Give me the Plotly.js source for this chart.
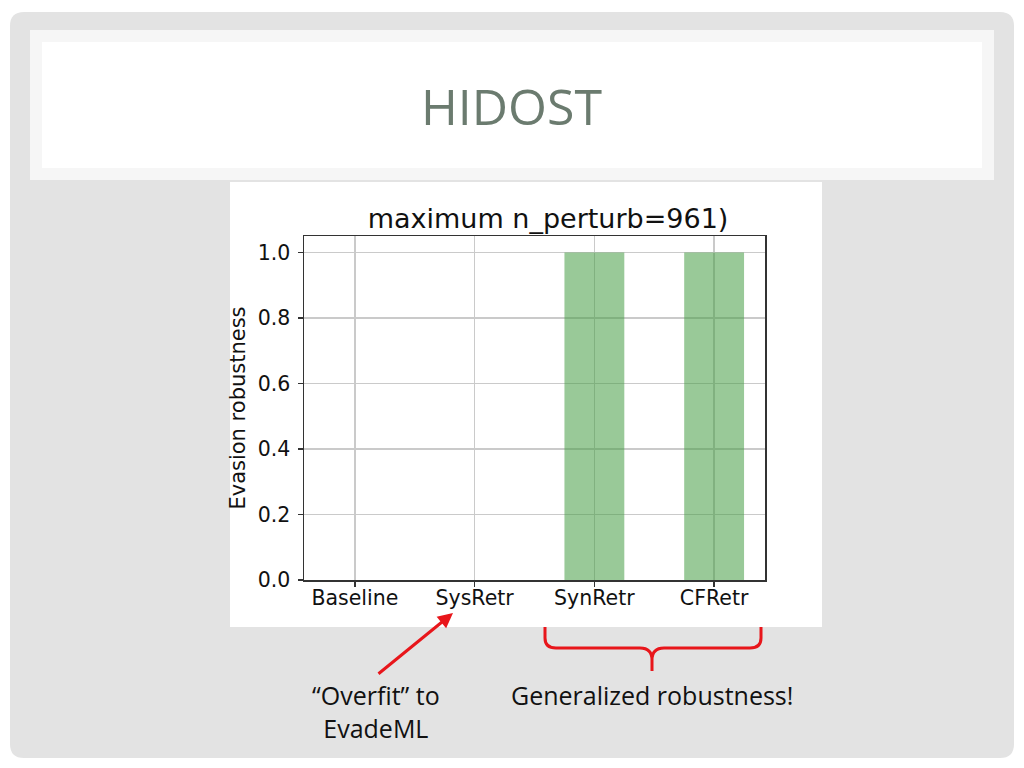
<!DOCTYPE html>
<html>
<head>
<meta charset="utf-8">
<script src="https://cdn.plot.ly/plotly-3.0.1.min.js"></script>
<style>
  html, body { margin: 0; padding: 0; background: #ffffff; }
  #mydiv { width: 1024px; height: 768px; }
</style>
</head>
<body>
<div id="mydiv"></div>
<script>
// chart data
var categories = ['Baseline', 'SysRetr', 'SynRetr', 'CFRetr'];
var robustness = [0, 0, 1, 1];
var yTicks = [0, 0.2, 0.4, 0.6, 0.8, 1.0];

// plot area in page pixels
var L = 304, R = 765, T = 236, B = 580;
var PW = R - L, PH = B - T;

function px(x) { return (x - L) / PW; }
function py(y) { return (B - y) / PH; }
function pt(x, y) { return px(x) + ',' + py(y); }

function roundRect(x0, y0, x1, y1, r)
{
    return 'M' + pt(x0 + r, y0) + ' L' + pt(x1 - r, y0) +
        ' Q' + pt(x1, y0) + ' ' + pt(x1, y0 + r) +
        ' L' + pt(x1, y1 - r) + ' Q' + pt(x1, y1) + ' ' + pt(x1 - r, y1) +
        ' L' + pt(x0 + r, y1) + ' Q' + pt(x0, y1) + ' ' + pt(x0, y1 - r) +
        ' L' + pt(x0, y0 + r) + ' Q' + pt(x0, y0) + ' ' + pt(x0 + r, y0) + ' Z';
}

// curly brace under SynRetr / CFRetr
var brace = 'M' + pt(545, 627) + ' L' + pt(545, 638) +
    ' Q' + pt(545, 648) + ' ' + pt(556, 648) +
    ' L' + pt(640, 648) + ' Q' + pt(652, 648) + ' ' + pt(652, 660) +
    ' L' + pt(652, 671) +
    ' M' + pt(652, 660) + ' Q' + pt(652, 648) + ' ' + pt(664, 648) +
    ' L' + pt(750, 648) + ' Q' + pt(761, 648) + ' ' + pt(761, 638) +
    ' L' + pt(761, 627);

var bars = {
    x: categories,
    y: robustness,
    type: 'bar',
    width: 0.5,
    marker: { color: 'rgba(70,157,68,0.55)', line: { width: 0 } },
    hoverinfo: 'none'
};

var red = '#e8161b';

var layout = {
    width: 1024,
    height: 768,
    margin: { l: L, r: 1024 - R, t: T, b: 768 - B, pad: 0 },
    paper_bgcolor: '#ffffff',
    plot_bgcolor: 'rgba(0,0,0,0)',
    showlegend: false,
    font: { family: 'DejaVu Sans', color: '#111111' },
    title: {
        text: 'maximum n_perturb=961)',
        font: { family: 'DejaVu Sans', size: 27, color: '#111111' },
        x: px(548), xref: 'paper', xanchor: 'center',
        y: 1 - 219 / 768, yref: 'container', yanchor: 'middle'
    },
    xaxis: {
        type: 'category',
        range: [-0.425, 3.425],
        showline: true, mirror: true, linecolor: '#333333', linewidth: 1.5,
        ticks: 'outside', ticklen: 5, tickwidth: 1.5, tickcolor: '#333333',
        ticklabelstandoff: -6,
        showgrid: true, gridcolor: '#cacaca', gridwidth: 1.3,
        tickfont: { family: 'DejaVu Sans', size: 20.5, color: '#111111' },
        fixedrange: true
    },
    yaxis: {
        range: [0, 1.05],
        tickvals: yTicks,
        tickformat: '.1f',
        zeroline: false,
        showline: true, mirror: true, linecolor: '#333333', linewidth: 1.5,
        ticks: 'outside', ticklen: 5, tickwidth: 1.5, tickcolor: '#333333',
        ticklabelstandoff: 3,
        showgrid: true, gridcolor: '#cacaca', gridwidth: 1.3,
        tickfont: { family: 'DejaVu Sans', size: 20.5, color: '#111111' },
        title: {
            text: 'Evasion robustness',
            font: { family: 'DejaVu Sans', size: 21, color: '#111111' },
            standoff: 6
        },
        fixedrange: true
    },
    shapes: [
        { type: 'path', xref: 'paper', yref: 'paper', layer: 'below',
          path: roundRect(10, 12, 1014, 758, 14),
          fillcolor: '#e3e3e3', line: { width: 0 } },
        { type: 'rect', xref: 'paper', yref: 'paper', layer: 'below',
          x0: px(30), x1: px(994), y0: py(30), y1: py(180),
          fillcolor: '#f6f6f6', line: { width: 0 } },
        { type: 'rect', xref: 'paper', yref: 'paper', layer: 'below',
          x0: px(42), x1: px(982), y0: py(42), y1: py(168),
          fillcolor: '#ffffff', line: { width: 0 } },
        { type: 'rect', xref: 'paper', yref: 'paper', layer: 'below',
          x0: px(230), x1: px(822), y0: py(182), y1: py(627),
          fillcolor: '#ffffff', line: { width: 0 } },
        { type: 'path', xref: 'paper', yref: 'paper', layer: 'above',
          path: brace, line: { color: red, width: 3 } }
    ],
    annotations: [
        { text: 'HIDOST', xref: 'paper', yref: 'paper',
          x: px(511), y: py(106), showarrow: false,
          xanchor: 'center', yanchor: 'middle',
          font: { family: 'Open Sans', size: 50, color: '#6b7b6f' } },
        { text: '\u201cOverfit\u201d to<br>EvadeML', xref: 'paper', yref: 'paper',
          x: px(376), y: py(711), showarrow: false, align: 'center',
          xanchor: 'center', yanchor: 'middle',
          font: { family: 'Open Sans', size: 25, color: '#111111' } },
        { text: 'Generalized robustness!', xref: 'paper', yref: 'paper',
          x: px(652), y: py(695), showarrow: false,
          xanchor: 'center', yanchor: 'middle',
          font: { family: 'Open Sans', size: 25, color: '#111111' } },
        { text: '', xref: 'paper', yref: 'paper',
          x: px(453), y: py(613), ax: -76, ay: 62,
          showarrow: true, arrowhead: 2, arrowsize: 1, arrowwidth: 3,
          arrowcolor: red, standoff: 0 }
    ]
};

Plotly.newPlot('mydiv', [bars], layout, { staticPlot: true, displayModeBar: false });
</script>
</body>
</html>
